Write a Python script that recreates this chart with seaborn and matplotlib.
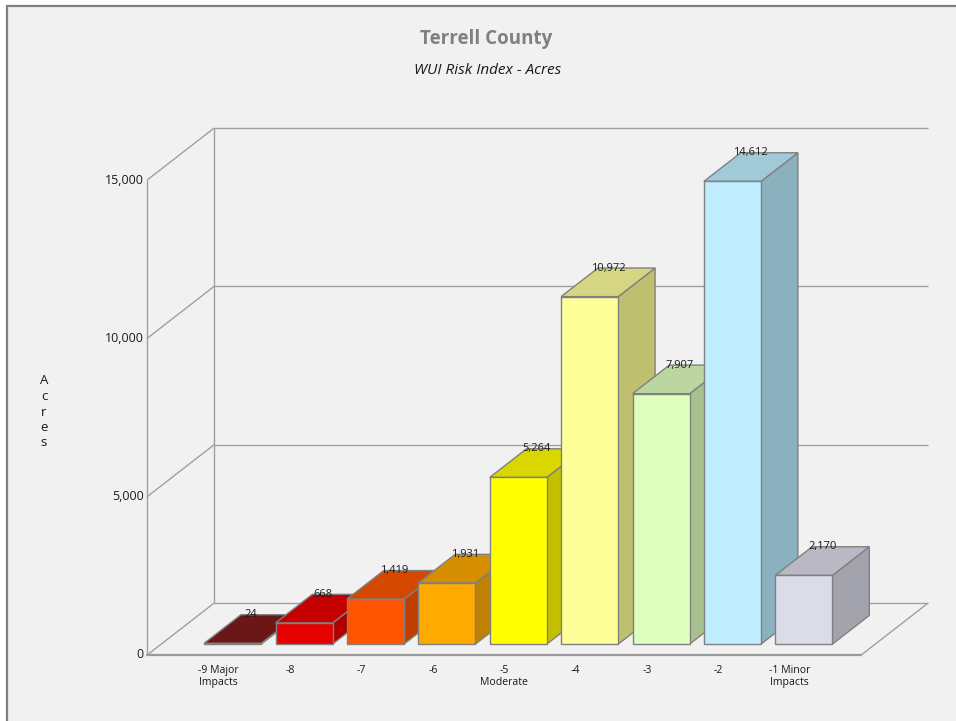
import matplotlib
matplotlib.use("Agg")
import matplotlib.pyplot as plt
from matplotlib.patches import Polygon, Rectangle
import seaborn as sns
import pandas as pd

# ---------------- data ----------------
categories = ["-9 Major\nImpacts", "-8", "-7", "-6", "-5\nModerate", "-4", "-3", "-2", "-1 Minor\nImpacts"]
values = [24, 668, 1419, 1931, 5264, 10972, 7907, 14612, 2170]
front_colors = ["#6B1717", "#E60000", "#FF5500", "#FFAA00", "#FFFF00", "#FFFF99", "#DFFFBF", "#BFECFF", "#DCDCE8"]
top_colors = ["#6B1717", "#C40000", "#D44800", "#D48E00", "#DAD600", "#D6D682", "#BCD6A0", "#A2C9D8", "#B9B9C5"]
side_colors = ["#5A1212", "#B00000", "#BF4000", "#C08000", "#C4C000", "#BFBF70", "#A8C08E", "#8BB1BF", "#A3A3AD"]
y_ticks = [0, 5000, 10000, 15000]
y_tick_labels = ["0", "5,000", "10,000", "15,000"]
title = "Terrell County"
subtitle = "WUI Risk Index - Acres"
y_label = "Acres"

# ---------------- style ----------------
sns.set_style("white")
plt.rcParams["font.family"] = ["Open Sans", "DejaVu Sans"]

W, H = 956, 721
fig = plt.figure(figsize=(W / 100, H / 100), dpi=100, facecolor="white")

# panel background with border
fig.patches.append(Rectangle((7 / W, -0.05), 1.2, (H - 6) / H + 0.05, transform=fig.transFigure,
                             facecolor="#F1F1F1", edgecolor="#808080", lw=1.6, zorder=-10))

# ---------------- geometry (pixels) ----------------
x_left_px = 147.2          # data x = -1 on the front plane
px_per_cat = 71.4
y_zero_px = 655            # data y = 0 on the front plane (image coords)
ymax = 15000
px_per_unit = 475 / ymax
depth_dx_px, depth_dy_px = 67, 52
z_front, z_depth = 0.21, 0.55
xlim = (-1, 9)

DX = depth_dx_px / px_per_cat
DY = depth_dy_px / px_per_unit

def axes_rect(shift_x_px=0.0, shift_y_px=0.0):
    return [(x_left_px + shift_x_px) / W, (H - y_zero_px + shift_y_px) / H,
            px_per_cat * (xlim[1] - xlim[0]) / W, px_per_unit * ymax / H]

# front plane axes (walls, floor, ticks)
ax = fig.add_axes(axes_rect())
ax.set_xlim(*xlim)
ax.set_ylim(0, ymax)
ax.axis("off")
ax.patch.set_alpha(0)

grid_c = "#A0A0A0"
lkw = dict(color=grid_c, lw=1.0, clip_on=False, solid_capstyle="butt")
x0, x1 = xlim
# front vertical axis
ax.plot([x0, x0], [0, ymax], **lkw)
# back wall vertical
ax.plot([x0 + DX, x0 + DX], [DY, ymax + DY], **lkw)
# floor
ax.plot([x0, x1], [0, 0], color="#9A9A9A", lw=1.6, clip_on=False)
ax.plot([x1, x1 + DX], [0, DY], **lkw)
ax.plot([x0 + DX, x1 + DX], [DY, DY], **lkw)
ax.plot([x0, x0 + DX], [0, DY], **lkw)
# grid lines on back wall + diagonals on left wall
for v in y_ticks[1:]:
    ax.plot([x0 + DX, x1 + DX], [v + DY, v + DY], **lkw)
    ax.plot([x0, x0 + DX], [v, v + DY], **lkw)

# y tick labels
for v, lab in zip(y_ticks, y_tick_labels):
    ax.annotate(lab, (x0, v), xytext=(-2.5, 0), textcoords="offset points",
                ha="right", va="center", fontsize=9, color="#1a1a1a")

# x category labels (front plane)
for i, lab in enumerate(categories):
    ax.annotate(lab, (i, 0), xytext=(0, -7.2), textcoords="offset points",
                ha="center", va="top", fontsize=7.6, color="#1a1a1a", linespacing=1.15)

# y axis label (stacked letters)
fig.text(44 / W, 1 - 412 / H, "\n".join(y_label), ha="center", va="center",
         fontsize=9.5, color="#1a1a1a", linespacing=1.25)

# titles
fig.text(486 / W, 1 - 39 / H, title, ha="center", va="center", fontsize=13.5,
         fontweight="bold", color="#808080")
fig.text(488 / W, 1 - 71 / H, subtitle, ha="center", va="center", fontsize=11,
         style="italic", color="#1a1a1a")

# ---------------- bars (front faces via seaborn) ----------------
ax_b = fig.add_axes(axes_rect(z_front * depth_dx_px, z_front * depth_dy_px))
df = pd.DataFrame({"cat": categories, "acres": values})
sns.barplot(data=df, x="cat", y="acres", hue="cat", palette=front_colors, order=categories,
            hue_order=categories, width=0.8, edgecolor="#808080", linewidth=1.0,
            saturation=1, legend=False, dodge=False, ax=ax_b)
ax_b.set_xlim(*xlim)
ax_b.set_ylim(0, ymax)
ax_b.axis("off")
ax_b.patch.set_alpha(0)

ddx, ddy = z_depth * DX, z_depth * DY
bars = sorted([p for p in ax_b.patches if isinstance(p, Rectangle)], key=lambda p: p.get_x())
for i, p in enumerate(bars):
    x, w, h = p.get_x(), p.get_width(), p.get_height()
    p.set_zorder(3 + 2 * i + 1)
    p.set_clip_on(False)
    top = Polygon([(x, h), (x + w, h), (x + w + ddx, h + ddy), (x + ddx, h + ddy)],
                  closed=True, facecolor=top_colors[i], edgecolor="#808080", lw=1.0,
                  zorder=3 + 2 * i, clip_on=False)
    side = Polygon([(x + w, 0), (x + w, h), (x + w + ddx, h + ddy), (x + w + ddx, ddy)],
                   closed=True, facecolor=side_colors[i], edgecolor="#808080", lw=1.0,
                   zorder=3 + 2 * i, clip_on=False)
    ax_b.add_patch(side)
    ax_b.add_patch(top)
    ax_b.text(x + w / 2 + ddx / 2, h + ddy, f"{values[i]:,}", ha="center", va="center",
              fontsize=8, color="#1a1a1a", zorder=100, clip_on=False)

fig.savefig("out.png", dpi=100, facecolor="white")
